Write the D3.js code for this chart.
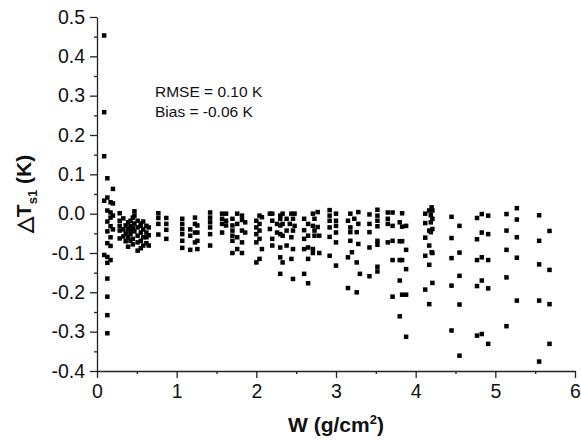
<!DOCTYPE html>
<html>
<head>
<meta charset="utf-8">
<script src="https://cdn.jsdelivr.net/npm/d3@7"></script>
<style>
  body { margin: 0; background: #fff; }
  svg text { font-family: Arial, "Liberation Sans", sans-serif; fill: #111; }
  .axis path, .axis line { stroke: #222; stroke-width: 1.3; }
  .axis text { font-size: 19.5px; }
</style>
</head>
<body>
<div id="chart"></div>
<script>
// W column positions (g/cm2) and the ΔTs1 values (K) found at each one
var wCols = [0.09, 0.13, 0.17, 0.20, 0.285, 0.33, 0.36, 0.39, 0.42, 0.45, 0.47, 0.51, 0.55, 0.58, 0.62, 0.65,
  0.77, 0.87, 1.07, 1.17, 1.23, 1.26, 1.42, 1.57, 1.62, 1.70, 1.76, 1.82, 1.86,
  2.00, 2.04, 2.07, 2.17, 2.20, 2.26, 2.30, 2.33, 2.38, 2.42, 2.44, 2.46, 2.48,
  2.60, 2.65, 2.71, 2.73, 2.77, 2.79, 2.92, 3.00, 3.15, 3.18, 3.20, 3.23, 3.26, 3.28, 3.30,
  3.42, 3.52, 3.65, 3.71, 3.80, 3.83, 3.88, 4.12, 4.17, 4.19, 4.20, 4.21,
  4.45, 4.55, 4.77, 4.83, 4.91, 5.14, 5.27, 5.55, 5.68];

var dtCols = [
  [0.453, 0.258, 0.146, 0.033, -0.105],
  [0.090, 0.041, 0.008, -0.020, -0.045, -0.075, -0.110, -0.125, -0.165, -0.211, -0.258, -0.304],
  [0.029, 0.003, -0.010, -0.032, -0.060, -0.082, -0.118],
  [0.063, 0.026, -0.005, -0.040],
  [0.001, -0.018, -0.031, -0.043, -0.063],
  [-0.012, -0.040, -0.058],
  [-0.030, -0.050, -0.070],
  [-0.022, -0.039, -0.060, -0.084],
  [-0.018, -0.031, -0.043, -0.052, -0.069],
  [-0.010, -0.036, -0.064, -0.078],
  [0.006, -0.005, -0.025, -0.045],
  [-0.018, -0.035, -0.056, -0.073, -0.094],
  [-0.025, -0.031, -0.048, -0.069, -0.088],
  [-0.020, -0.040, -0.060, -0.081],
  [-0.031, -0.048, -0.060, -0.075],
  [-0.035, -0.055, -0.081],
  [0.001, -0.011, -0.026, -0.053],
  [-0.011, -0.026, -0.041, -0.064],
  [-0.013, -0.026, -0.039, -0.052, -0.069, -0.087],
  [-0.040, -0.056, -0.092],
  [-0.010, -0.026, -0.048, -0.073],
  [-0.030, -0.048, -0.069, -0.090],
  [0.003, -0.010, -0.022, -0.035, -0.052, -0.081],
  [0.000, -0.013, -0.026, -0.048],
  [0.000, -0.018, -0.030],
  [-0.013, -0.030, -0.043, -0.056, -0.069, -0.100],
  [0.000, -0.026, -0.060, -0.090],
  [-0.005, -0.016, -0.043, -0.073, -0.100],
  [-0.022, -0.048],
  [-0.018, -0.035, -0.052, -0.073, -0.124],
  [-0.005, -0.026, -0.043, -0.064, -0.115],
  [-0.009, -0.090],
  [0.000, -0.039],
  [0.000, -0.018, -0.064, -0.081],
  [-0.026, -0.048],
  [-0.005, -0.013, -0.030, -0.052, -0.086, -0.111, -0.153],
  [0.000, -0.026, -0.056, -0.124],
  [-0.013, -0.043, -0.081],
  [-0.026],
  [0.000, -0.060, -0.115],
  [-0.013, -0.043, -0.090, -0.166],
  [0.000, -0.031],
  [-0.013, -0.042, -0.064, -0.090, -0.153],
  [-0.026, -0.056, -0.086, -0.115, -0.177],
  [0.000, -0.031, -0.090, -0.100],
  [-0.013, -0.043, -0.056],
  [0.004, -0.034],
  [-0.056, -0.100],
  [0.009, -0.005, -0.018, -0.035, -0.059, -0.107],
  [0.000, -0.018, -0.031, -0.048, -0.073, -0.132],
  [-0.018, -0.111, -0.189],
  [0.000, -0.035, -0.047, -0.069],
  [-0.098],
  [-0.013],
  [-0.047, -0.124, -0.200],
  [0.004, -0.026, -0.077],
  [-0.153],
  [-0.002, -0.026, -0.047, -0.086, -0.159],
  [0.010, -0.005, -0.018, -0.032, -0.069, -0.079, -0.135, -0.147],
  [0.003, -0.013, -0.026, -0.073],
  [0.003, -0.031, -0.069, -0.118, -0.211],
  [-0.022, -0.070, -0.118, -0.170, -0.261],
  [0.001, -0.033, -0.070, -0.118, -0.206],
  [-0.031, -0.092, -0.141, -0.206, -0.313],
  [0.000, -0.024, -0.061, -0.107, -0.193],
  [0.008, -0.043, -0.081, -0.130, -0.230],
  [-0.004, -0.022, -0.047],
  [0.016, -0.098],
  [0.008, -0.013, -0.039, -0.100, -0.176],
  [-0.008, -0.062, -0.113, -0.183, -0.297],
  [-0.031, -0.099, -0.158, -0.231, -0.361],
  [-0.011, -0.065, -0.118, -0.184, -0.310],
  [-0.001, -0.048, -0.111, -0.170, -0.306],
  [-0.005, -0.052, -0.118, -0.190, -0.331],
  [-0.001, -0.043, -0.092, -0.162, -0.286],
  [0.014, -0.015, -0.060, -0.112, -0.221],
  [-0.004, -0.069, -0.129, -0.221, -0.376],
  [-0.044, -0.143, -0.230, -0.331]
];

var xTicks = [0, 1, 2, 3, 4, 5, 6];
var xTickLabels = ["0", "1", "2", "3", "4", "5", "6"];
var yTicks = [-0.4, -0.3, -0.2, -0.1, 0.0, 0.1, 0.2, 0.3, 0.4, 0.5];
var yTickLabels = ["-0.4", "-0.3", "-0.2", "-0.1", "0.0", "0.1", "0.2", "0.3", "0.4", "0.5"];
var statLines = ["RMSE = 0.10 K", "Bias = -0.06 K"];

var svgWidth = 581, svgHeight = 442,
    margin = { top: 17, right: 6, bottom: 71, left: 97 },
    chartWidth = svgWidth - margin.left - margin.right,
    chartHeight = svgHeight - margin.top - margin.bottom;

var x = d3.scaleLinear().domain([0, 6]).range([0, chartWidth]);
var y = d3.scaleLinear().domain([-0.4, 0.5]).range([chartHeight, 0]);

var svg = d3.select('#chart').append('svg')
    .attr('width', svgWidth)
    .attr('height', svgHeight)
    .append('g')
    .attr('transform', 'translate(' + margin.left + ',' + margin.top + ')');

// flatten columns into points
var points = [];
wCols.forEach(function (w, i) {
    dtCols[i].forEach(function (v) {
        points.push({ w: w, dt: v });
    });
});

// minor ticks (midpoints), drawn first so the main axes sit on top
svg.append('g')
    .attr('class', 'axis')
    .attr('transform', 'translate(0,' + chartHeight + ')')
    .call(d3.axisBottom(x).tickValues(d3.range(0.5, 6, 1)).tickSize(3).tickFormat(''))
    .select('.domain').remove();
svg.append('g')
    .attr('class', 'axis')
    .call(d3.axisLeft(y).tickValues(d3.range(-0.35, 0.5, 0.1)).tickSize(3).tickFormat(''))
    .select('.domain').remove();

var xAxis = d3.axisBottom(x).tickValues(xTicks).tickSizeInner(7).tickSizeOuter(0).tickPadding(6)
    .tickFormat(function (d, i) { return xTickLabels[i]; });
var yAxis = d3.axisLeft(y).tickValues(yTicks).tickSizeInner(7).tickSizeOuter(0).tickPadding(5)
    .tickFormat(function (d, i) { return yTickLabels[i]; });

svg.append('g')
    .attr('class', 'x axis')
    .attr('transform', 'translate(0,' + chartHeight + ')')
    .call(xAxis);
svg.append('g')
    .attr('class', 'y axis')
    .call(yAxis);

svg.selectAll('.axis text').attr('fill', '#111');

// data squares
var s = 4.5;
svg.append('g').selectAll('rect')
    .data(points)
    .enter().append('rect')
    .attr('x', function (d) { return x(d.w) - s / 2; })
    .attr('y', function (d) { return y(d.dt) - s / 2; })
    .attr('width', s)
    .attr('height', s)
    .attr('fill', '#000');

// annotation
svg.append('g').selectAll('text')
    .data(statLines)
    .enter().append('text')
    .attr('x', 58)
    .attr('y', function (d, i) { return 80 + i * 20; })
    .style('font-size', '15.5px')
    .text(function (d) { return d; });

// axis titles
var xt = svg.append('text')
    .attr('x', chartWidth / 2)
    .attr('y', chartHeight + 61)
    .attr('text-anchor', 'middle')
    .style('font-size', '21px')
    .style('font-weight', 'bold');
xt.append('tspan').text('W (g/cm');
xt.append('tspan').attr('dy', -8).style('font-size', '13px').text('2');
xt.append('tspan').attr('dy', 8).text(')');

var yt = svg.append('text')
    .attr('transform', 'translate(' + (-66) + ',' + (chartHeight / 2) + ') rotate(-90)')
    .attr('text-anchor', 'middle')
    .style('font-size', '21px')
    .style('font-weight', 'bold');
yt.append('tspan').text('\u25B3T');
yt.append('tspan').attr('dy', 6).style('font-size', '13px').text('s1');
yt.append('tspan').attr('dy', -6).text(' (K)');
</script>
</body>
</html>
